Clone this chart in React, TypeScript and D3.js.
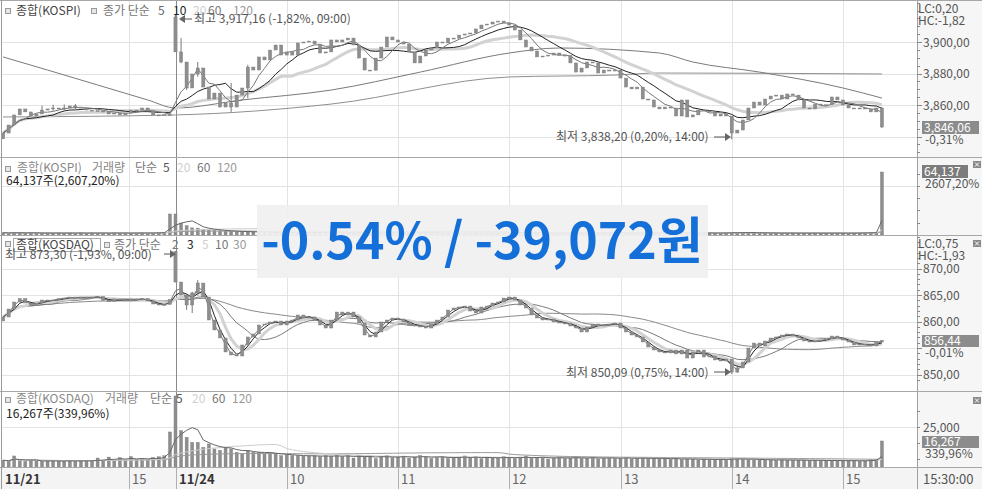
import React from "react";
import * as d3 from "d3";

const FONT = "'Noto Sans CJK KR', 'Noto Sans', sans-serif";

// ---------- time axis (3-minute slots) ----------
const slotDayStart = 31; // first slot of 11/24 (09:00)
const gridSlots = [22.6, 31, 51, 71, 91, 111, 131, 151];
const gridLabels = ["15", "11/24", "10", "11", "12", "13", "14", "15"];
const boldLabels = ["11/21", "11/24"];

// ---------- KOSPI ----------
const kospiOpen1121 = 3838.5;
const kospiOpen1124 = 3915.9;
const kospiClose1121 = [3842.2, 3847.3, 3853.7, 3857.5, 3855.6, 3853.0, 3854.3, 3856.8, 3857.5, 3858.1, 3857.5, 3858.1, 3859.4, 3858.7, 3858.1, 3856.8, 3856.5, 3856.2, 3856.0, 3854.3, 3854.9, 3853.7, 3854.9, 3856.8, 3856.6, 3858.1, 3856.2, 3853.7, 3853.5, 3853.9, 3853.6];
const kospiClose1124 = [
  3893.7, 3887.3, 3870.8, 3879.7, 3883.5, 3871.4, 3863.8, 3867.6, 3858.7, 3861.3,
  3858.7, 3866.3, 3870.8, 3884.1, 3882.2, 3890.5, 3888.6, 3894.9, 3898.1, 3891.7,
  3893.7, 3891.7, 3899.4, 3900.0, 3900.6, 3898.7, 3893.0, 3893.7, 3901.3, 3900.0,
  3901.3, 3902.5, 3898.1, 3889.8, 3882.2, 3882.0, 3889.8, 3896.8, 3903.2, 3901.3,
  3900.0, 3898.7, 3893.7, 3886.7, 3891.1, 3894.9, 3896.2, 3900.0, 3899.4, 3902.5,
  3902.3, 3904.4, 3905.1, 3905.7, 3908.3, 3910.8, 3911.4, 3912.7, 3913.3, 3912.1,
  3910.8, 3907.6, 3901.3, 3896.8, 3894.3, 3890.5, 3891.1, 3891.7, 3893.0, 3891.7,
  3891.5, 3886.7, 3880.9, 3883.5, 3887.3, 3886.7, 3880.3, 3882.2, 3881.6, 3882.2,
  3877.1, 3871.4, 3870.2, 3871.4, 3863.8, 3863.2, 3858.7, 3857.5, 3858.7, 3858.1,
  3853.0, 3863.2, 3852.4, 3853.7, 3856.8, 3856.2, 3855.6, 3853.0, 3854.3, 3853.0,
  3842.2, 3844.1, 3850.5, 3858.1, 3861.9, 3860.0, 3863.8, 3865.7, 3866.3, 3863.8,
  3867.0, 3866.3, 3863.2, 3858.1, 3857.5, 3860.6, 3860.0, 3860.2, 3865.1, 3863.2,
  3860.0, 3858.1, 3857.5, 3858.1, 3857.5, 3855.6, 3858.1, 3846.06,
];
// [slot, high, low]
const kospiWicks = [
  [7, 3859.6, 3855.2], [9, 3860.2, 3856.4], [11, 3860.3, 3856.5], [13, 3860.6, 3857.2],
  [31, 3917.16, 3893.7], [32, 3902.5, 3886.5], [33, 3887, 3869.5], [35, 3887.3, 3878],
  [41, 3874.0, 3855.6], [44, 3885.5, 3864.2], [131, 3843, 3838.2], [158, 3858.5, 3845.4],
];
// long moving averages: [slot, value]
const kospiMA60 = [[0, 3890.5], [8, 3882.2], [17, 3872.7], [26, 3863.2], [31, 3858.1], [43, 3863.2], [59, 3869.5], [75, 3880.9], [91, 3893.0], [100, 3896.2], [118, 3893.0], [124, 3887.3], [136, 3880.9], [151, 3870.8], [158, 3864.4]];
const kospiMA120 = [[0, 3852.4], [31, 3853.7], [59, 3860.6], [91, 3877.8], [110, 3879.0], [118, 3880.3], [158, 3879.7]];
const kospiVol1121 = [2400, 1800, 2600, 2200, 1900, 2300, 2000, 1700, 2100, 1800, 2200, 1900, 2000, 1700, 2300, 1800, 2100, 1900, 2000, 1800, 2200, 1900, 2100, 1800, 2000, 2300, 1900, 2100, 2400, 2600, 21400];
const kospiVol1124 = [
  21400, 12200, 9500, 7300, 7000, 5800, 5000, 4600, 4200, 3900, 3600, 3500, 3300, 3100, 3000, 2900, 2800, 2700, 3000, 2600, 2700, 2500, 2800, 2400, 2500, 2600, 2300, 2400, 2500, 2200,
  2400, 2100, 2300, 2600, 2800, 2400, 2200, 2300, 2100, 2000, 2200, 2300, 2500, 2600, 2300, 2200, 2000, 2100, 1900, 2000, 2100, 1900, 2000, 2200, 2100, 2000, 1900, 2100, 2000, 2200,
  2300, 2400, 2500, 2300, 2200, 2100, 2000, 1900, 2000, 2100, 1900, 2200, 2300, 2100, 2000, 1900, 2100, 2000, 1900, 2000, 2200, 2300, 2100, 2000, 2400, 2200, 2300, 2100, 2000, 1900,
  2100, 2300, 2200, 2000, 1900, 2000, 2100, 1900, 2000, 2200, 2800, 2600, 2400, 2300, 2200, 2000, 2100, 1900, 2000, 1800, 1900, 2000, 1900, 1800, 1900, 2000, 1800, 1900, 1800, 2000, 1900, 1800, 2000, 2100, 2300, 2800, 2600,
  64137,
];

// ---------- KOSDAQ ----------
const kosdaqOpen1121 = 860.1;
const kosdaqOpen1124 = 873.2;
const kosdaqClose1121 = [860.85, 862.36, 863.68, 864.34, 863.49, 863.02, 863.49, 864.06, 863.87, 864.06, 864.34, 864.43, 864.62, 864.34, 864.62, 864.34, 864.62, 864.72, 863.96, 863.77, 864.25, 864.06, 863.87, 864.25, 864.06, 864.34, 863.87, 863.3, 863.11, 863.21, 864.15];
const kosdaqClose1124 = [
  867.45, 865.0, 863.11, 865.38, 867.26, 864.62, 860.28, 858.4, 856.89, 854.25,
  853.68, 853.49, 855.57, 857.08, 857.64, 859.34, 859.53, 859.91, 860.09, 859.34,
  860.09, 860.28, 861.23, 860.66, 860.85, 860.28, 859.34, 858.77,
  860.28, 861.79, 861.23, 861.79, 860.85, 859.72, 857.45, 857.08, 858.02, 859.91,
  860.28, 860.66, 860.47, 859.91, 859.34, 859.15, 859.15, 858.77, 859.53, 860.28,
  860.85, 862.17, 862.55, 862.74, 862.92, 861.98, 861.6, 862.74, 862.92, 863.49,
  863.68, 864.43, 864.62, 864.06, 863.11, 862.55, 861.23, 860.66, 860.28, 860.47,
  859.91, 859.72, 859.72, 859.15, 858.77, 858.02, 858.96, 859.53, 859.15, 859.34,
  859.53, 859.72, 858.77, 858.02, 857.45, 857.08, 856.13, 855.19, 854.62, 854.25,
  854.06, 854.62, 853.87, 854.62, 853.11, 854.25, 854.62, 853.3, 853.49, 852.74,
  852.55, 852.92, 850.47, 851.23, 852.36, 855.0, 855.94, 855.38, 856.32, 856.89,
  857.08, 857.45, 857.64, 857.26, 856.89, 856.32, 856.13, 856.32, 856.51, 856.7,
  857.26, 856.89, 856.51, 856.13, 855.57, 855.75, 855.57, 855.38, 856.13, 856.44,
];
const kosdaqWicks = [
  [31, 873.3, 867.4], [33, 865.2, 862.2], [34, 865.6, 861.6], [35, 867.8, 864.9],
  [131, 852.0, 850.09], [132, 851.8, 850.3], [159, 856.6, 856.2],
];
const kosdaqVol1121 = [4200, 3600, 6900, 3900, 3500, 4100, 3800, 3400, 4000, 3700, 3900, 3500, 4200, 3600, 3800, 4000, 3700, 5600, 4300, 6200, 4100, 5800, 4400, 6500, 4600, 5200, 4800, 5900, 6400, 7000, 21900];
const kosdaqVol1124 = [
  44400, 22700, 18600, 15400, 15400, 12300, 14400, 11300, 10400, 12300, 11300, 9200, 8300, 10400, 9200, 9200, 8300, 8300, 8300, 7100, 7500, 7100, 7100, 6800, 6800, 7000, 6500, 7000,
  6800, 7200, 6500, 7000, 5600, 7100, 6400, 6900, 5200, 6600, 7000, 5800, 6300, 6800, 5500, 6200, 7200, 6500, 5400, 6000, 6700, 5300, 6100, 5800, 6900, 5600, 6300, 5200, 5900, 6100,
  5500, 6400, 5800, 5300, 6200, 6800, 5400, 5900, 6100, 5000, 5700, 6300, 5200, 5800, 6000, 5400, 5600, 6200, 5100, 5700, 5900, 5300, 5500, 6000, 5000, 5400, 5800, 5200, 5600, 5300,
  5000, 4800, 5400, 4600, 5200, 4900, 4400, 5000, 4700, 4500, 5100, 4300, 5600, 5200, 4900, 4600, 4400, 4800, 4200, 4500, 4100, 4600, 4300, 4000, 4400, 4200, 3900, 4300, 4100, 3800, 4200, 4000, 3700, 4100, 3900, 3600, 4000, 4500, 4800,
  16267,
];

// ---------- texts ----------
const kospiHighNote = "최고 3,917,16 (-1,82%, 09:00)";
const kospiLowNote = "최저 3,838,20 (0,20%, 14:00)";
const kosdaqHighNote = "최고 873,30 (-1,93%, 09:00)";
const kosdaqLowNote = "최저 850,09 (0,75%, 14:00)";
const overlayText = "-0.54% / -39,072원";
// legend rows: [text, x, colour]
const legendKospi = [["종합(KOSPI)", 16, "#444"], ["종가 단순", 103, "#777"], ["5", 158, "#666"], ["10", 173, "#222"], ["20", 193, "#cfcfcf"], ["60", 208, "#777"], ["120", 233, "#999"]];
const legendKospiVol = [["종합(KOSPI)", 17, "#888"], ["거래량", 92, "#888"], ["단순", 135, "#777"], ["5", 163, "#555"], ["20", 177, "#cfcfcf"], ["60", 197, "#777"], ["120", 217, "#999"]];
const legendKosdaq = [["종합(KOSDAQ)", 16, "#444"], ["종가 단순", 114, "#777"], ["2", 172, "#777"], ["3", 187, "#222"], ["5", 202, "#cfcfcf"], ["10", 215, "#777"], ["30", 233, "#999"]];
const legendKosdaqVol = [["종합(KOSDAQ)", 16, "#888"], ["거래량", 105, "#888"], ["단순", 150, "#777"], ["5", 176, "#555"], ["20", 192, "#cfcfcf"], ["60", 212, "#777"], ["120", 232, "#999"]];

// ---------- layout ----------
const PL = 2;
const PR = 917;
const P1 = { top: 1, bottom: 157.5 };
const P2 = { top: 158, bottom: 235.5 };
const P3 = { top: 236.5, bottom: 391 };
const P4 = { top: 392, bottom: 467.5 };
const FS = 12;

const x = d3.scaleLinear().domain([slotDayStart, 151]).range([175.5, 843]);
const yK = d3.scaleLinear().domain([3860, 3900]).range([105, 42]);
const yKV = d3.scaleLinear().domain([0, 64137]).range([235, 172]);
const yQ = d3.scaleLinear().domain([850, 860]).range([374.5, 321.5]);
const yQV = d3.scaleLinear().domain([0, 25000]).range([467, 427]);

const fmt2 = (v: number) => d3.format(",.2f")(v).replace(".", ",");

function sma(arr: number[], n: number) {
  return arr.map((_, i) => d3.mean(arr.slice(Math.max(0, i - n + 1), i + 1)) as number);
}

function Candles({ closes, opens, wicks, y }: any) {
  return (
    <g>
      {closes.map((c: number, i: number) => {
        const o = opens[i] !== undefined ? opens[i] : closes[i - 1];
        const hi = Math.max(o, c);
        const lo = Math.min(o, c);
        const w = wicks.find((d: number[]) => d[0] === i);
        const cx = x(i);
        const top = y(hi);
        const bh = Math.max(1, y(lo) - y(hi));
        return (
          <g key={i}>
            {w ? <line x1={cx} x2={cx} y1={y(Math.max(hi, w[1]))} y2={y(Math.min(lo, w[2]))} stroke="#777" strokeWidth={1} /> : null}
            <rect x={cx - 1.6} y={top} width={3.2} height={bh} fill="#8e8e8e" stroke="#7a7a7a" strokeWidth={0.4} />
          </g>
        );
      })}
    </g>
  );
}

function Bars({ vals, y, base }: any) {
  return (
    <g>
      {vals.map((v: number, i: number) => (
        <rect key={i} x={x(i) - 1.5} y={y(v)} width={3} height={Math.max(1, base - y(v))} fill="#8e8e8e" stroke="#7c7c7c" strokeWidth={0.4} />
      ))}
    </g>
  );
}

function linePath(vals: number[], y: any) {
  return d3.line<number>().x((_, i) => x(i)).y((d) => y(d))(vals) || "";
}
function knotPath(pts: number[][], y: any) {
  return d3.line<number[]>().x((d) => x(d[0])).y((d) => y(d[1])).curve(d3.curveMonotoneX)(pts) || "";
}

function Txt(props: any) {
  const { children, ...rest } = props;
  return (
    <text fontFamily={FONT} fontSize={FS} fill="#555" {...rest}>
      {children}
    </text>
  );
}

function Legend({ items, yy }: any) {
  return (
    <g>
      {items.map((d: any[], i: number) => (
        <Txt key={i} x={d[1]} y={yy} fill={d[2]}>{d[0]}</Txt>
      ))}
    </g>
  );
}

function Icon({ px, py }: any) {
  return <rect x={px + 0.5} y={py + 0.5} width={5} height={5} fill="#e6e6e6" stroke="#9a9a9a" strokeWidth={1} />;
}

function ArrowLeft({ x1, x2, yy }: any) {
  return (
    <g>
      <line x1={x1 + 5} x2={x2} y1={yy} y2={yy} stroke="#555" />
      <path d={`M${x1},${yy} L${x1 + 6},${yy - 4} L${x1 + 6},${yy + 4} Z`} fill="#666" />
    </g>
  );
}
function ArrowRight({ x1, x2, yy }: any) {
  return (
    <g>
      <line x1={x1} x2={x2 - 5} y1={yy} y2={yy} stroke="#555" />
      <path d={`M${x2},${yy} L${x2 - 6},${yy - 4} L${x2 - 6},${yy + 4} Z`} fill="#666" />
    </g>
  );
}

function AxisTicks({ vals, y, major }: any) {
  return (
    <g>
      {vals.map((v: number, i: number) => (
        <line key={i} x1={PR} x2={PR + (major ? 5 : 3)} y1={Math.round(y(v)) + 0.5} y2={Math.round(y(v)) + 0.5} stroke="#888" />
      ))}
    </g>
  );
}

function CloseBtn({ px, py }: any) {
  return (
    <g>
      <rect x={px} y={py} width={8} height={7} fill="#8a8a8a" />
      <path d={`M${px + 2},${py + 1.5} L${px + 6},${py + 5.5} M${px + 6},${py + 1.5} L${px + 2},${py + 5.5}`} stroke="#fff" strokeWidth={1} />
    </g>
  );
}

export default function App() {
  const kClose = [...kospiClose1121, ...kospiClose1124];
  const kOpens: Record<number, number> = { 0: kospiOpen1121, [slotDayStart]: kospiOpen1124 };
  const qClose = [...kosdaqClose1121, ...kosdaqClose1124];
  const qOpens: Record<number, number> = { 0: kosdaqOpen1121, [slotDayStart]: kosdaqOpen1124 };
  const kVol = [...kospiVol1121, ...kospiVol1124];
  const qVol = [...kosdaqVol1121, ...kosdaqVol1124];

  const hGrid = (vals: number[], y: any) =>
    vals.map((v, i) => <line key={i} x1={PL} x2={PR} y1={Math.round(y(v)) + 0.5} y2={Math.round(y(v)) + 0.5} stroke="#e3e3e3" />);

  const vGrid = (top: number, bottom: number) =>
    gridSlots.map((s, i) => (
      <line key={i} x1={Math.round(x(s)) + 0.5} x2={Math.round(x(s)) + 0.5} y1={top} y2={bottom} stroke={s === slotDayStart ? "#8a8a8a" : "#e3e3e3"} />
    ));

  return (
    <svg width={982} height={489} style={{ position: "absolute", left: 0, top: 0, background: "#fff" }}>
      <defs>
        {[P1, P2, P3, P4].map((p, i) => (
          <clipPath id={`clip${i}`} key={i}>
            <rect x={PL} y={p.top} width={PR - PL} height={p.bottom - p.top} />
          </clipPath>
        ))}
      </defs>
      <rect x={0} y={0} width={982} height={489} fill="#fff" />
      <rect x={PR} y={0} width={982 - PR} height={468} fill="#f6f6f6" />
      <rect x={0} y={468} width={982} height={21} fill="#f4f4f4" />

      {/* grids */}
      {hGrid([3840, 3860, 3880, 3900], yK)}
      {hGrid([50000], yKV)}
      {hGrid([850, 855, 860, 865, 870], yQ)}
      {hGrid([25000], yQV)}
      {vGrid(P1.top, P1.bottom)}
      {vGrid(P2.top, P2.bottom)}
      {vGrid(P3.top, P3.bottom)}
      {vGrid(P4.top, P4.bottom)}

      {/* ---------- Panel 1: KOSPI price ---------- */}
      <g clipPath="url(#clip0)">
        <path d={knotPath(kospiMA120, yK)} fill="none" stroke="#8f8f8f" strokeWidth={1} />
        <path d={knotPath(kospiMA60, yK)} fill="none" stroke="#7a7a7a" strokeWidth={1} />
        <path d={linePath(sma(kClose, 20), yK)} fill="none" stroke="#d2d2d2" strokeWidth={3} />
        <path d={linePath(sma(kClose, 10), yK)} fill="none" stroke="#222" strokeWidth={1} />
        <path d={linePath(sma(kClose, 5), yK)} fill="none" stroke="#777" strokeWidth={1} />
        <Candles closes={kClose} opens={kOpens} wicks={kospiWicks} y={yK} />
      </g>
      <Icon px={5} py={8} />
      <Icon px={91} py={8} />
      <Legend items={legendKospi} yy={15} />
      <ArrowLeft x1={179} x2={192} yy={19} />
      <Txt x={194} y={23} fill="#555">{kospiHighNote}</Txt>
      <Txt x={556} y={141} fill="#555">{kospiLowNote}</Txt>
      <ArrowRight x1={714} x2={731} yy={137} />

      {/* ---------- Panel 2: KOSPI volume ---------- */}
      <g clipPath="url(#clip1)">
        <Bars vals={kVol} y={yKV} base={235} />
        <path d={linePath(sma(kVol, 60), yKV)} fill="none" stroke="#9a9a9a" strokeWidth={1} />
        <path d={linePath(sma(kVol, 20), yKV)} fill="none" stroke="#cccccc" strokeWidth={1} />
        <path d={linePath(sma(kVol, 5), yKV)} fill="none" stroke="#666" strokeWidth={1} />
      </g>
      <Icon px={5} py={166} />
      <Legend items={legendKospiVol} yy={172} />
      <Txt x={6} y={185} fill="#222">64,137주(2,607,20%)</Txt>

      {/* ---------- Panel 3: KOSDAQ price ---------- */}
      <g clipPath="url(#clip2)">
        <path d={linePath(sma(qClose, 30), yQ)} fill="none" stroke="#8a8a8a" strokeWidth={1} />
        <path d={linePath(sma(qClose, 10), yQ)} fill="none" stroke="#7a7a7a" strokeWidth={1} />
        <path d={linePath(sma(qClose, 5), yQ)} fill="none" stroke="#d2d2d2" strokeWidth={3} />
        <path d={linePath(sma(qClose, 3), yQ)} fill="none" stroke="#222" strokeWidth={1} />
        <path d={linePath(sma(qClose, 2), yQ)} fill="none" stroke="#777" strokeWidth={1} />
        <Candles closes={qClose} opens={qOpens} wicks={kosdaqWicks} y={yQ} />
      </g>
      <Icon px={5} py={241} />
      <rect x={13.5} y={238.5} width={87} height={13} fill="none" stroke="#a8a8a8" />
      <Icon px={104} py={242} />
      <Legend items={legendKosdaq} yy={249} />
      <Txt x={5} y={259} fill="#555">{kosdaqHighNote}</Txt>
      <ArrowRight x1={164} x2={176} yy={254} />
      <Txt x={566} y={377} fill="#555">{kosdaqLowNote}</Txt>
      <ArrowRight x1={714} x2={731} yy={372} />

      {/* ---------- Panel 4: KOSDAQ volume ---------- */}
      <g clipPath="url(#clip3)">
        <Bars vals={qVol} y={yQV} base={467.5} />
        <path d={linePath(sma(qVol, 60), yQV)} fill="none" stroke="#9a9a9a" strokeWidth={1} />
        <path d={linePath(sma(qVol, 20), yQV)} fill="none" stroke="#cccccc" strokeWidth={1} />
        <path d={linePath(sma(qVol, 5), yQV)} fill="none" stroke="#666" strokeWidth={1} />
      </g>
      <Icon px={5} py={397} />
      <Legend items={legendKosdaqVol} yy={403} />
      <Txt x={6} y={418} fill="#222">16,267주(339,96%)</Txt>

      {/* ---------- panel separators ---------- */}
      {[0.5, 157.5, 235.5, 391.5, 467.5].map((yy, i) => (
        <line key={i} x1={0} x2={982} y1={yy} y2={yy} stroke="#a8a8a8" />
      ))}
      <line x1={1.5} x2={1.5} y1={0} y2={489} stroke="#9a9a9a" />
      <line x1={PR + 0.5} x2={PR + 0.5} y1={0} y2={489} stroke="#a0a0a0" />

      {/* ---------- right axes ---------- */}
      <AxisTicks vals={d3.range(3830, 3926, 5)} y={yK} major={false} />
      <AxisTicks vals={[3840, 3860, 3880, 3900]} y={yK} major={true} />
      <Txt x={918} y={13}>LC:0,20</Txt>
      <Txt x={918} y={25}>HC:-1,82</Txt>
      {[3900, 3880, 3860].map((v) => (
        <Txt key={v} x={923} y={yK(v) + 4.5}>{fmt2(v)}</Txt>
      ))}
      <rect x={922} y={121} width={57} height={13} fill="#8c8c8c" />
      <Txt x={924} y={132} fill="#fff">{fmt2(kospiClose1124[kospiClose1124.length - 1])}</Txt>
      <Txt x={925} y={144}>-0,31%</Txt>

      <AxisTicks vals={d3.range(12500, 75000, 12500)} y={yKV} major={false} />
      <CloseBtn px={973} py={161} />
      <rect x={922} y={165} width={46} height={13} fill="#7c7c7c" />
      <Txt x={924} y={176} fill="#fff">{d3.format(",")(kospiVol1124[kospiVol1124.length - 1])}</Txt>
      <Txt x={925} y={188}>2607,20%</Txt>

      <AxisTicks vals={d3.range(849, 877, 1)} y={yQ} major={false} />
      <AxisTicks vals={[850, 855, 860, 865, 870]} y={yQ} major={true} />
      <CloseBtn px={973} py={240} />
      <Txt x={918} y={248}>LC:0,75</Txt>
      <Txt x={918} y={260}>HC:-1,93</Txt>
      {[870, 865, 860, 850].map((v) => (
        <Txt key={v} x={923} y={yQ(v) + 4.5}>{fmt2(v)}</Txt>
      ))}
      <rect x={922} y={335} width={57} height={12} fill="#8c8c8c" />
      <Txt x={924} y={345} fill="#fff">{fmt2(kosdaqClose1124[kosdaqClose1124.length - 1])}</Txt>
      <Txt x={925} y={357}>-0,01%</Txt>

      <AxisTicks vals={d3.range(5000, 45000, 10000)} y={yQV} major={false} />
      <CloseBtn px={973} py={397} />
      <Txt x={923} y={yQV(25000) + 4.5}>{d3.format(",")(25000)}</Txt>
      <rect x={922} y={436} width={57} height={12} fill="#8c8c8c" />
      <Txt x={924} y={446} fill="#fff">{d3.format(",")(kosdaqVol1124[kosdaqVol1124.length - 1])}</Txt>
      <Txt x={925} y={458}>339,96%</Txt>

      {/* ---------- bottom time axis ---------- */}
      <Txt x={5} y={484} fill="#333" fontSize={13} fontWeight="bold">{boldLabels[0]}</Txt>
      {gridSlots.map((s, i) => (
        <g key={i}>
          <line x1={Math.round(x(s)) + 0.5} x2={Math.round(x(s)) + 0.5} y1={468} y2={489} stroke="#b0b0b0" />
          <Txt x={Math.round(x(s)) + 3} y={484} fontSize={13} fill={boldLabels.includes(gridLabels[i]) ? "#333" : "#666"} fontWeight={boldLabels.includes(gridLabels[i]) ? "bold" : "normal"}>
            {gridLabels[i]}
          </Txt>
        </g>
      ))}
      <Txt x={923} y={484} fontSize={13} fill="#555">15:30:00</Txt>

      {/* ---------- overlay ---------- */}
      <rect x={257} y={205} width={451} height={73} fill="rgba(240,240,240,0.93)" />
      <text x={482} y={259} textAnchor="middle" fontFamily={FONT} fontWeight="bold" fontSize={50} fill="#1470d8">
        {overlayText}
      </text>
    </svg>
  );
}
